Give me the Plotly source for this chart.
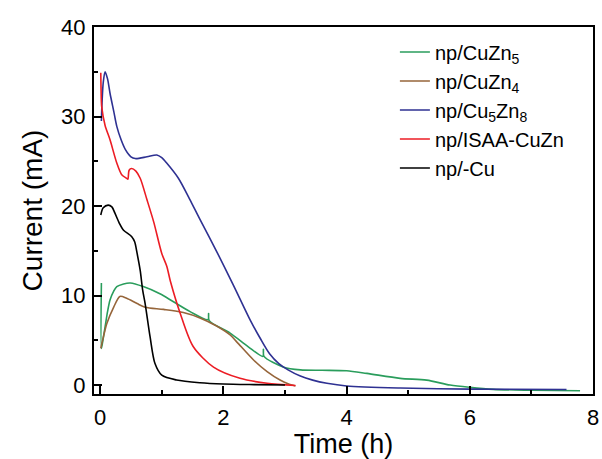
import plotly.graph_objects as go

# Data (time in h, current in mA)
cuzn5_t = [0.02, 0.02, 0.04, 0.08, 0.12, 0.16, 0.22, 0.27, 0.38, 0.49, 0.70, 0.97, 1.19, 1.46,
           1.75, 1.76, 1.77, 2.11, 2.40, 2.64, 2.65, 2.66, 2.98, 3.25, 3.60, 4.00, 4.33, 4.87,
           5.30, 5.68, 6.00, 6.38, 7.00, 7.79]
cuzn5_i = [11.4, 4.1, 4.8, 6.5, 8.2, 9.5, 10.5, 11.0, 11.3, 11.4, 11.0, 10.2, 9.3, 8.2,
           7.3, 8.0, 7.2, 5.8, 4.3, 3.2, 4.0, 3.2, 2.0, 1.7, 1.65, 1.6, 1.3, 0.75,
           0.55, 0.0, -0.26, -0.48, -0.58, -0.64]

cuzn4_t = [0.01, 0.06, 0.11, 0.22, 0.32, 0.43, 0.60, 0.73, 1.03, 1.35, 1.62, 1.89, 2.11,
           2.22, 2.49, 2.71, 2.92, 3.05, 3.17]
cuzn4_i = [4.1, 5.6, 6.9, 8.7, 9.9, 9.7, 9.1, 8.7, 8.45, 8.1, 7.5, 6.6, 5.6,
           4.8, 2.8, 1.5, 0.56, 0.15, -0.1]

cu5zn8_t = [0.02, 0.03, 0.05, 0.08, 0.12, 0.16, 0.22, 0.27, 0.34, 0.41, 0.50, 0.57, 0.76,
            0.92, 1.00, 1.08, 1.27, 1.45, 1.62, 1.90, 2.16, 2.44, 2.60, 2.75, 2.90, 3.05,
            3.25, 3.45, 3.68, 4.00, 4.87, 6.00, 7.57]
cu5zn8_i = [29.5, 31.5, 33.8, 35.0, 34.2, 32.6, 30.6, 28.9, 27.4, 26.3, 25.5, 25.3, 25.5,
            25.7, 25.4, 24.8, 23.1, 20.8, 18.5, 14.8, 11.2, 7.2, 5.2, 3.5, 2.4, 1.7,
            1.0, 0.55, 0.2, -0.1, -0.33, -0.45, -0.5]

isaa_t = [0.01, 0.015, 0.025, 0.08, 0.16, 0.27, 0.35, 0.43, 0.45, 0.47, 0.51, 0.58, 0.65,
          0.76, 0.87, 1.00, 1.08, 1.14, 1.30, 1.51, 1.84, 2.27, 2.71, 3.17]
isaa_i = [34.9, 33.0, 31.1, 29.0, 27.4, 24.8, 23.5, 23.1, 23.0, 24.0, 24.2, 23.9, 23.1,
          20.7, 18.2, 14.7, 13.3, 11.6, 8.0, 4.3, 2.0, 0.75, 0.2, -0.05]

cu_t = [0.01, 0.05, 0.13, 0.19, 0.24, 0.31, 0.38, 0.51, 0.56, 0.60, 0.65, 0.69, 0.73,
        0.81, 0.89, 1.00, 1.24, 1.62, 2.00, 2.50, 3.00]
cu_i = [19.0, 19.8, 20.1, 19.9, 19.2, 18.1, 17.3, 16.6, 16.0, 14.7, 12.8, 10.6, 9.1,
        5.4, 2.4, 1.1, 0.56, 0.26, 0.12, 0.05, 0.0]

series = [
    ("np/CuZn<sub>5</sub>", cuzn5_t, cuzn5_i, "#2a9d5c"),
    ("np/CuZn<sub>4</sub>", cuzn4_t, cuzn4_i, "#96653a"),
    ("np/Cu<sub>5</sub>Zn<sub>8</sub>", cu5zn8_t, cu5zn8_i, "#2e3192"),
    ("np/ISAA-CuZn", isaa_t, isaa_i, "#ec1c24"),
    ("np/-Cu", cu_t, cu_i, "#000000"),
]

x_ticks = [0, 2, 4, 6, 8]
y_ticks = [0, 10, 20, 30, 40]

fig = go.Figure()
for name, t, i, c in series:
    fig.add_trace(go.Scatter(x=t, y=i, mode="lines", name=name,
                             line=dict(color=c, width=1.6, shape="spline", smoothing=0.8)))

font_family = "Liberation Sans, Arial, sans-serif"
fig.update_layout(
    width=602, height=459,
    margin=dict(l=94, r=9, t=27, b=65),
    plot_bgcolor="white", paper_bgcolor="white",
    font=dict(family=font_family, color="black"),
    showlegend=True,
    legend=dict(x=0.603, y=0.985, xanchor="left", yanchor="top",
                font=dict(size=20, family=font_family),
                bgcolor="rgba(0,0,0,0)", borderwidth=0, tracegroupgap=0),
    xaxis=dict(range=[-0.1, 8.0], tickvals=x_ticks, ticks="inside", ticklen=8,
               tickwidth=2, tickcolor="black", showline=True, linewidth=2,
               linecolor="black", mirror=True, showgrid=False, zeroline=False,
               tickfont=dict(size=22), ticklabelstandoff=3, automargin=False,
               minor=dict(tickvals=[1, 3, 5, 7], ticks="inside", ticklen=4,
                          tickwidth=2, tickcolor="black", showgrid=False),
               title=dict(text="Time (h)", font=dict(size=27), standoff=9)),
    yaxis=dict(range=[-1, 40], tickvals=y_ticks, ticks="inside", ticklen=8,
               tickwidth=2, tickcolor="black", showline=True, linewidth=2,
               linecolor="black", mirror=True, showgrid=False, zeroline=False,
               tickfont=dict(size=22), ticklabelstandoff=2, automargin=False,
               minor=dict(tickvals=[5, 15, 25, 35], ticks="inside", ticklen=4,
                          tickwidth=2, tickcolor="black", showgrid=False),
               title=dict(text="Current (mA)", font=dict(size=28), standoff=10)),
)

fig.write_html("out.html")
